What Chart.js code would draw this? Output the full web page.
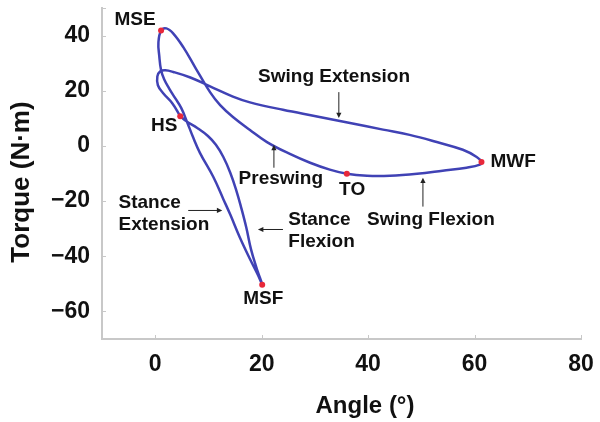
<!DOCTYPE html>
<html>
<head>
<meta charset="utf-8">
<script src="https://cdn.jsdelivr.net/npm/chart.js@4.4.0/dist/chart.umd.min.js"></script>
<style>
    html, body { margin: 0; padding: 0; background: #fff; }
    #contenedor { width: 600px; height: 422px; }
</style>
</head>
<body>
<div id="contenedor"><canvas id="graficoTorqueAngulo"></canvas></div>
<script>
// Ciclo de marcha: HS -> flexión apoyo -> MSF -> extensión apoyo -> MSE -> preswing -> TO -> flexión oscilación -> MWF -> extensión oscilación -> HS
const angulo = [
    4.7, 5.8, 7.9, 9.9, 11.4, 12.8, 14.1, 15.2, 16.1, 17.1, 18.0, 19.0, 20.1,
    19.3, 17.8, 15.9, 14.1, 12.8, 10.9, 8.4, 7.1, 6.0, 4.9, 3.75, 2.6, 1.7, 1.1, 0.75, 0.6, 1.1,
    2.1, 3.4, 5.3, 7.5, 10.3, 12.2, 14.6, 17.8, 21.0, 25.3, 29.1, 32.8, 36.0,
    39.8, 44.1, 49.2, 54.0, 58.5, 61.0, 61.3,
    60.4, 57.8, 52.9, 47.8, 42.8, 36.6, 30.4, 24.0, 17.8, 14.6, 10.3, 6.6, 3.4, 1.9, 0.9, 0.4, 0.5, 1.5, 3.2, 4.7
];
const torque = [
    10.8, 9.0, 6.5, 3.6, 0.4, -4.0, -9.7, -15.9, -22.0, -29.5, -37.5, -44.0, -50.3,
    -46.8, -41.0, -33.2, -24.9, -19.3, -11.2, -2.5, 3.2, 8.6, 13.7, 17.3, 20.9, 24.1, 27.4, 32.8, 37.5, 41.8,
    42.6, 40.7, 35.7, 28.5, 19.5, 14.8, 10.5, 5.8, 1.4, -2.9, -6.1, -8.6, -10.1,
    -10.8, -10.8, -10.1, -9.0, -7.9, -6.8, -5.8,
    -4.0, -1.4, 1.4, 4.0, 5.9, 8.3, 10.7, 13.1, 15.8, 17.9, 21.6, 24.8, 26.8, 27.4, 27.0, 25.2, 22.0, 19.1, 15.5, 10.8
];

// Eventos marcados en rojo
const eventos = ['MSE', 'HS', 'MSF', 'TO', 'MWF'];
const anguloEventos = [1.1, 4.7, 20.1, 36.0, 61.3];
const torqueEventos = [41.8, 10.8, -50.3, -10.1, -5.8];

const ticksX = [0, 20, 40, 60, 80];
const ticksY = [-60, -40, -20, 0, 20, 40];

const fuente = '"Liberation Sans", Arial, sans-serif';

function formatoTick(v) {
    return v < 0 ? '\u2212' + Math.abs(v) : String(v);
}

function flecha(ctx, x1, y1, x2, y2) {
    const ang = Math.atan2(y2 - y1, x2 - x1);
    const largo = 6;
    ctx.beginPath();
    ctx.moveTo(x1, y1);
    ctx.lineTo(x2 - Math.cos(ang) * 3, y2 - Math.sin(ang) * 3);
    ctx.stroke();
    ctx.beginPath();
    ctx.moveTo(x2, y2);
    ctx.lineTo(x2 - largo * Math.cos(ang - 0.45), y2 - largo * Math.sin(ang - 0.45));
    ctx.lineTo(x2 - largo * Math.cos(ang + 0.45), y2 - largo * Math.sin(ang + 0.45));
    ctx.closePath();
    ctx.fill();
}

// Textos y flechas del gráfico (posiciones en unidades de los ejes)
const pluginNotas = {
    id: 'notas',
    afterDraw(chart) {
        const { ctx, scales: { x, y }, chartArea } = chart;
        ctx.save();

        // marcas pequeñas hacia dentro
        ctx.strokeStyle = '#c8c8c8';
        ctx.lineWidth = 1;
        ticksX.forEach(v => {
            const px = Math.round(x.getPixelForValue(v)) + 0.5;
            ctx.beginPath();
            ctx.moveTo(px, chartArea.bottom);
            ctx.lineTo(px, chartArea.bottom - 4);
            ctx.stroke();
        });
        ticksY.concat([50]).forEach(v => {
            const py = Math.round(y.getPixelForValue(v)) + 0.5;
            ctx.beginPath();
            ctx.moveTo(chartArea.left, py);
            ctx.lineTo(chartArea.left + 4, py);
            ctx.stroke();
        });

        ctx.fillStyle = '#111';
        ctx.strokeStyle = '#222';
        ctx.textBaseline = 'middle';
        ctx.font = 'bold 19px ' + fuente;

        const textos = [
            { t: 'MSE', a: -3.8, b: 45.8, al: 'center' },
            { t: 'HS', a: 1.7, b: 7.2, al: 'center' },
            { t: 'MSF', a: 20.3, b: -55.5, al: 'center' },
            { t: 'TO', a: 37.0, b: -15.9, al: 'center' },
            { t: 'MWF', a: 63.0, b: -5.8, al: 'left' },
            { t: 'Swing Extension', a: 33.6, b: 24.9, al: 'center' },
            { t: 'Preswing', a: 23.6, b: -11.9, al: 'center' },
            { t: 'Swing Flexion', a: 51.8, b: -26.7, al: 'center' },
            { t: 'Stance', a: -6.9, b: -20.5, al: 'left' },
            { t: 'Extension', a: -6.9, b: -28.5, al: 'left' },
            { t: 'Stance', a: 25.0, b: -26.7, al: 'left' },
            { t: 'Flexion', a: 25.0, b: -34.6, al: 'left' }
        ];
        textos.forEach(n => {
            ctx.textAlign = n.al;
            ctx.fillText(n.t, x.getPixelForValue(n.a), y.getPixelForValue(n.b));
        });

        ctx.lineWidth = 1;
        ctx.fillStyle = '#222';
        const flechas = [
            [34.5, 19.5, 34.5, 10.1],
            [22.3, -7.9, 22.3, 0.4],
            [50.3, -22.0, 50.3, -11.5],
            [6.2, -23.4, 12.6, -23.4],
            [24.0, -30.3, 19.3, -30.3]
        ];
        flechas.forEach(f => {
            flecha(ctx, x.getPixelForValue(f[0]), y.getPixelForValue(f[1]),
                x.getPixelForValue(f[2]), y.getPixelForValue(f[3]));
        });

        // títulos de los ejes
        ctx.fillStyle = '#111';
        ctx.textAlign = 'center';
        ctx.font = 'bold 24px ' + fuente;
        ctx.fillText('Angle (\u00b0)', 365, 406);
        ctx.font = 'bold 26px ' + fuente;
        ctx.translate(22, 182);
        ctx.rotate(-Math.PI / 2);
        ctx.fillText('Torque (N\u00b7m)', 0, 0);

        ctx.restore();
    }
};

const ctxGrafico = document.getElementById('graficoTorqueAngulo').getContext('2d');
const graficoTorque = new Chart(ctxGrafico, {
    type: 'scatter',
    data: {
        datasets: [{
            label: 'Eventos',
            data: anguloEventos.map((a, i) => ({ x: a, y: torqueEventos[i] })),
            pointRadius: 3,
            pointBackgroundColor: '#e8283a',
            pointBorderWidth: 0,
            showLine: false
        }, {
            label: 'Torque',
            data: angulo.map((a, i) => ({ x: a, y: torque[i] })),
            showLine: true,
            borderColor: '#4042b5',
            borderWidth: 2.5,
            pointRadius: 0,
            tension: 0.4,
            fill: false
        }]
    },
    options: {
        responsive: true,
        maintainAspectRatio: false,
        animation: false,
        layout: { padding: { top: 8, right: 19, left: 0, bottom: 0 } },
        scales: {
            x: {
                min: -10,
                max: 80,
                afterBuildTicks: scale => { scale.ticks = ticksX.map(v => ({ value: v })); },
                afterFit: scale => { scale.height = 83; scale.paddingLeft = 0; scale.paddingRight = 0; },
                grid: { display: false, drawTicks: false },
                border: { display: true, color: '#c8c8c8', width: 2 },
                ticks: {
                    padding: 12,
                    color: '#111',
                    font: { family: fuente, size: 23, weight: 'bold' },
                    callback: v => formatoTick(v)
                }
            },
            y: {
                min: -70,
                max: 50,
                afterBuildTicks: scale => { scale.ticks = ticksY.map(v => ({ value: v })); },
                afterFit: scale => { scale.width = 102; scale.paddingTop = 0; scale.paddingBottom = 0; },
                grid: { display: false, drawTicks: false },
                border: { display: true, color: '#c8c8c8', width: 2 },
                ticks: {
                    padding: 12,
                    color: '#111',
                    font: { family: fuente, size: 23, weight: 'bold' },
                    callback: v => formatoTick(v)
                }
            }
        },
        plugins: {
            legend: { display: false },
            tooltip: { enabled: false }
        }
    },
    plugins: [pluginNotas]
});
</script>
</body>
</html>
